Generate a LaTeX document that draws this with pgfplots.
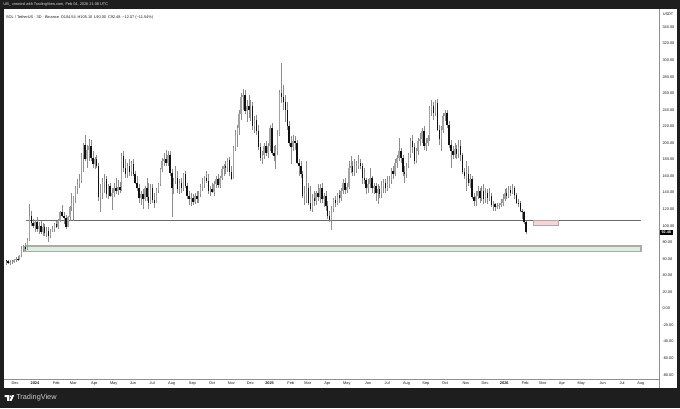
\documentclass[border=0pt]{standalone}
\usepackage{pgfplots}
\usepackage{pgfplotstable}
\usepackage{fontspec}
\setmainfont{Liberation Sans}
\pgfplotsset{compat=1.18}
\definecolor{frame}{HTML}{1E1E1E}
\definecolor{axln}{HTML}{8F8F8F}
\definecolor{wick}{HTML}{8C8C8C}
\definecolor{upb}{HTML}{A2A2A2}
\definecolor{dnb}{HTML}{111111}
\definecolor{lbl}{HTML}{1A1A1A}
\definecolor{lvl}{HTML}{6A6A6A}
\definecolor{gbox}{HTML}{DCEEDD}
\definecolor{pbox}{HTML}{FBD0D6}
\definecolor{bbd}{HTML}{ABABAB}
\pgfplotstableread{
i o h l c
0 58 59 53 57
1 57 58 54 55
2 55 58 53 56
3 56 59 54 56
4 56 60 55 58
5 58 62 56 60
6 60 63 57 59
7 59 65 58 63
8 63 75 62 72
9 72 77 68 74
10 74 79 70 72
11 72 85 71 83
12 83 126 82 112
13 112 118 100 103
14 103 108 97 100
15 100 107 92 105
16 105 110 92 96
17 96 105 90 100
18 100 106 90 93
19 93 103 88 99
20 99 102 87 91
21 91 99 86 94
22 94 98 80 88
23 88 96 85 94
24 94 100 92 96
25 96 103 93 102
26 102 106 97 98
27 98 108 96 106
28 106 118 104 116
29 116 125 110 112
30 112 117 102 109
31 109 113 96 99
32 99 112 98 110
33 110 124 106 122
34 122 140 118 128
35 128 136 106 135
36 135 148 128 145
37 145 156 138 150
38 150 162 145 154
39 154 188 152 186
40 186 200 165 198
41 198 210 178 180
42 180 197 170 192
43 192 205 178 196
44 196 203 178 182
45 182 190 170 175
46 175 183 168 180
47 180 186 170 172
48 172 176 130 135
49 135 150 117 140
50 140 158 132 153
51 153 162 140 156
52 156 160 133 138
53 138 150 132 148
54 148 152 135 136
55 136 146 119 140
56 140 152 135 146
57 146 158 138 142
58 142 155 137 147
59 147 153 140 143
60 143 188 142 184
61 184 190 165 170
62 170 180 158 162
63 162 176 158 172
64 172 180 160 165
65 165 178 160 174
66 174 180 160 162
67 162 166 150 152
68 152 160 142 145
69 145 150 128 133
70 133 142 125 138
71 138 144 120 132
72 132 148 130 146
73 146 158 130 135
74 135 152 120 128
75 128 150 126 146
76 146 150 128 131
77 131 140 121 128
78 128 146 127 143
79 143 152 140 150
80 150 170 148 168
81 168 182 165 178
82 178 188 172 180
83 180 192 172 176
84 176 190 172 186
85 186 190 160 164
86 164 168 111 146
87 146 158 138 154
88 154 172 150 158
89 158 166 140 144
90 144 156 138 152
91 152 158 140 146
92 146 164 142 162
93 162 166 145 148
94 148 152 132 136
95 136 142 125 132
96 132 140 124 134
97 134 138 125 129
98 129 140 126 136
99 136 142 128 132
100 132 142 128 138
101 138 150 135 147
102 147 158 142 150
103 150 160 146 158
104 158 166 152 154
105 154 162 138 142
106 142 148 136 144
107 144 152 140 141
108 141 154 136 150
109 150 160 146 157
110 157 162 145 149
111 149 160 146 158
112 158 172 155 168
113 168 175 160 172
114 172 178 162 170
115 170 182 165 179
116 179 183 160 165
117 165 172 155 157
118 157 196 156 194
119 194 215 190 210
120 210 222 195 218
121 218 240 210 235
122 235 260 228 255
123 255 265 240 258
124 258 264 235 238
125 238 252 225 245
126 245 258 230 240
127 240 252 226 245
128 245 250 215 220
129 220 232 212 228
130 228 234 210 214
131 214 222 192 195
132 195 200 178 182
133 182 190 175 186
134 186 200 180 196
135 196 202 184 188
136 188 200 182 196
137 196 222 190 218
138 218 224 186 188
139 188 196 178 184
140 184 198 168 190
141 190 215 185 210
142 210 264 208 260
143 260 296 248 255
144 255 270 240 250
145 250 258 225 240
146 240 250 215 220
147 220 226 196 200
148 200 208 175 195
149 195 210 190 202
150 202 208 192 200
151 200 203 174 176
152 176 180 160 172
153 172 178 158 163
154 163 166 133 136
155 136 148 125 140
156 140 178 128 146
157 146 152 125 128
158 128 148 118 120
159 120 138 116 134
160 134 142 124 130
161 130 142 125 140
162 140 150 130 135
163 135 150 128 146
164 146 152 128 132
165 132 140 122 136
166 136 142 118 124
167 124 130 108 112
168 112 118 104 107
169 107 124 95 120
170 120 133 116 131
171 131 136 122 128
172 128 140 125 137
173 137 143 128 134
174 134 145 130 142
175 142 156 138 151
176 151 158 138 143
177 143 152 140 147
178 147 178 144 170
179 170 184 164 172
180 172 178 160 165
181 165 180 160 168
182 168 178 164 172
183 172 186 168 176
184 176 180 168 172
185 172 176 150 158
186 158 170 150 155
187 155 158 138 145
188 145 156 140 150
189 150 170 146 158
190 158 160 140 146
191 146 152 138 148
192 148 152 130 139
193 139 150 126 144
194 144 148 134 138
195 138 154 134 148
196 148 156 140 152
197 152 156 140 146
198 146 160 142 150
199 150 160 146 155
200 155 170 150 166
201 166 172 156 162
202 162 180 160 176
203 176 186 170 182
204 182 206 178 190
205 190 194 176 182
206 182 186 160 165
207 165 172 152 162
208 162 176 158 172
209 172 188 170 185
210 185 206 182 202
211 202 210 188 195
212 195 200 174 178
213 178 194 176 190
214 190 206 186 202
215 202 212 196 205
216 205 218 200 214
217 214 220 192 196
218 196 206 190 200
219 200 210 196 206
220 206 244 202 240
221 240 252 232 244
222 244 250 228 236
223 236 252 232 248
224 248 253 214 216
225 216 222 198 205
226 205 220 190 215
227 215 236 212 232
228 232 240 226 236
229 236 240 218 222
230 222 226 194 198
231 198 204 170 190
232 190 196 180 186
233 186 200 182 193
234 193 198 180 187
235 187 204 182 196
236 196 204 178 185
237 185 188 162 165
238 165 170 156 160
239 160 178 142 162
240 162 172 148 152
241 152 162 146 156
242 156 160 132 135
243 135 140 124 130
244 130 142 124 136
245 136 148 132 142
246 142 146 128 134
247 134 148 130 142
248 142 150 126 132
249 132 146 128 140
250 140 144 126 134
251 134 146 130 136
252 136 140 122 125
253 125 130 118 126
254 126 128 118 122
255 122 128 120 124
256 124 128 120 125
257 125 132 122 128
258 128 138 124 132
259 132 144 130 140
260 140 146 132 136
261 136 148 134 143
262 143 148 136 140
263 140 150 138 145
264 145 148 132 137
265 137 140 126 128
266 128 132 122 127
267 127 130 116 118
268 118 120 108 116
269 116 118 102 104.54
270 104.54 105.10 90.00 92.48
}\candles
\begin{document}
\begin{tikzpicture}[x=1pt,y=1pt]
\fill[frame] (0,0) rectangle (510,306);
\fill[white] (3,15) rectangle (507.5,299.5);
\draw[axln,line width=0.4pt] (494.5,15) -- (494.5,21.5);
\begin{axis}[
  at={(3pt,21.525pt)},anchor=south west,
  scale only axis,width=491.475pt,height=277.95pt,
  xmin=-1.169,xmax=339.25,ymin=-85.5,ymax=362.1,
  clip=true,
  axis x line*=bottom,axis y line*=right,
  axis line style={draw=axln,line width=0.4pt,-},
  tick style={draw=none},major tick length=0pt,
  unbounded coords=discard,
  xtick={4.6,14.9,26,34.8,45.7,55.8,65.8,75.8,85.9,96.7,106.9,116.9,126.8,136.8,147.8,156.6,166.8,176.9,187.9,197.9,207.9,218,228,238.8,248.7,258.7,269.6,278.7,288.7,298.7,309.8,319.9,329.7},
  xticklabels={Dec,\bfseries 2024,Feb,Mar,Apr,May,Jun,Jul,Aug,Sep,Oct,Nov,Dec,\bfseries 2025,Feb,Mar,Apr,May,Jun,Jul,Aug,Sep,Oct,Nov,Dec,\bfseries 2026,Feb,Mar,Apr,May,Jun,Jul,Aug},
  ytick={-80,-60,-40,-20,0,20,40,60,80,100,120,140,160,180,200,220,240,260,280,300,320,340},
  yticklabel pos=right,
  ticklabel style={font=\fontsize{2.9}{3}\selectfont,text=lbl,inner sep=0pt,outer sep=0pt},
  xticklabel style={yshift=-2.1pt},
  yticklabel style={xshift=2.4pt,
    /pgf/number format/fixed,/pgf/number format/fixed zerofill,/pgf/number format/precision=2,
    /pgf/number format/assume math mode=true,/pgf/number format/1000 sep={}},
]
% level line and boxes
\addplot[draw=lvl,line width=0.7pt,forget plot] coordinates {(10.3,106.3) (329.7,106.3)};
\addplot[fill=gbox,draw=bbd,line width=1pt,forget plot] coordinates {(9.8,75.5) (329.7,75.5) (329.7,69.2) (9.8,69.2) (9.8,75.5)};
\addplot[fill=pbox,draw=bbd,line width=0.6pt,forget plot] coordinates {(273.8,106.3) (287,106.3) (287,100.3) (273.8,100.3) (273.8,106.3)};
% wicks
\addplot[draw=none,mark=none,forget plot,
  error bars/.cd,y dir=both,y explicit,error mark=none,
  error bar style={line width=0.4pt,draw=wick}]
  table[x=i,y=c,y error plus expr=\thisrow{h}-\thisrow{c},y error minus expr=\thisrow{c}-\thisrow{l}]{\candles};
% up bodies
\addplot[draw=none,mark=none,forget plot,
  error bars/.cd,y dir=minus,y explicit,error mark=none,
  error bar style={line width=1.1pt,draw=upb,line cap=butt}]
  table[x=i,y expr={\thisrow{c}>=\thisrow{o}?\thisrow{c}:nan},y error minus expr=\thisrow{c}-\thisrow{o}]{\candles};
% down bodies
\addplot[draw=none,mark=none,forget plot,
  error bars/.cd,y dir=minus,y explicit,error mark=none,
  error bar style={line width=1.1pt,draw=dnb,line cap=butt}]
  table[x=i,y expr={\thisrow{c}<\thisrow{o}?\thisrow{o}:nan},y error minus expr=\thisrow{o}-\thisrow{c}]{\candles};
\end{axis}
% price tag and captions
\fill[black] (495,130) rectangle (504.5,133.6);
\node[font=\fontsize{2.8}{3}\selectfont\bfseries,text=white,inner sep=0pt] at (499.7,131.8) {92.48};
\node[font=\fontsize{2.9}{3}\selectfont,text=lbl,inner sep=0pt] at (501,295) {USDT};
\node[anchor=west,font=\fontsize{2.9}{3}\selectfont,text=lbl,inner sep=0pt] at (4.4,292.6) {SOL / TetherUS · 3D · Binance\enspace O104.54\enspace H105.10\enspace L90.00\enspace C92.48\enspace −12.07 (−11.54\%)};
\node[anchor=west,font=\fontsize{2.9}{3}\selectfont,text=white!85!black,inner sep=0pt] at (2.4,302.5) {UB\_ created with TradingView.com, Feb 04, 2026 21:08 UTC};
% logo
\fill[white] (3.4,9.6) -- (7,9.6) -- (7,5.4) -- (5.4,5.4) -- (5.4,8.1) -- (3.4,8.1) -- cycle;
\fill[white] (7.9,8.8) circle (0.75);
\fill[white] (10.6,9.6) -- (8.7,5.4) -- (7.1,5.4) -- (9,9.6) -- cycle;
\node[anchor=west,font=\fontsize{5.5}{6}\selectfont,text=white!80!black,inner sep=0pt] at (12,7.6) {TradingView};
\end{tikzpicture}
\end{document}
